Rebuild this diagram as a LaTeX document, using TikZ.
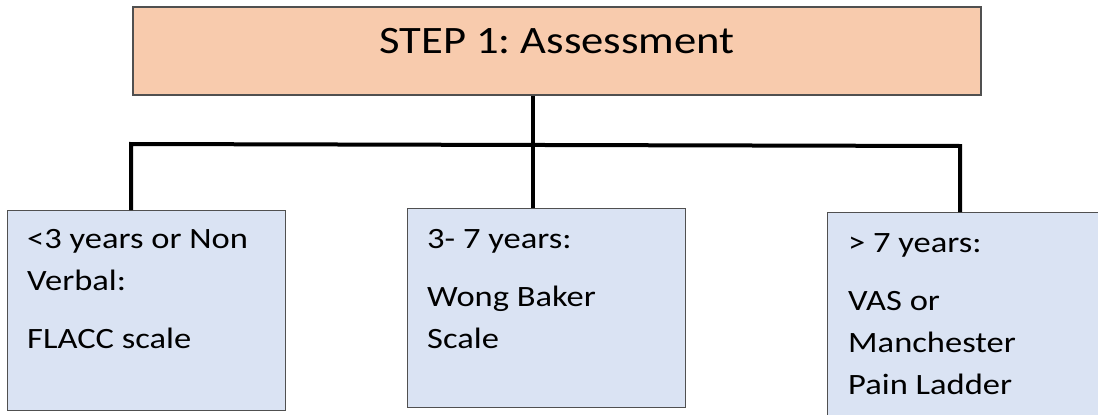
\documentclass[tikz,border=0pt]{standalone}
\usepackage{fontspec}
\setmainfont{Carlito}[FakeStretch=1.17]
\newfontfamily\topfont{Carlito}[FakeStretch=1.15]
\usetikzlibrary{calc}
\definecolor{peach}{HTML}{F8CBAD}
\definecolor{paleblue}{HTML}{DAE3F3}
\definecolor{edgegray}{HTML}{505050}
\begin{document}
\frenchspacing
\begin{tikzpicture}[x=1pt,y=-1pt,
 topbox/.style={draw=edgegray, line width=1.2pt, fill=peach, minimum width=848pt, minimum height=88pt, inner sep=0pt, text height=18pt, text depth=14pt, font=\topfont\fontsize{38.8}{46}\selectfont},
 agebox/.style={draw=edgegray, line width=1.2pt, fill=paleblue, inner sep=0pt, anchor=north west},
 agetext/.style={anchor=north west, inner sep=0pt, align=left, font=\fontsize{29.5}{42}\selectfont},
 link/.style={line width=4pt, black, line join=miter}]
\useasboundingbox (0,0) rectangle (1098,415);
\node[topbox] (top) at (557,51) {STEP 1: Assessment};
\node[agebox, minimum width=278pt, minimum height=200pt] (b1) at (7,210) {};
\node[agebox, minimum width=278pt, minimum height=199pt] (b2) at (407,208) {};
\node[agebox, minimum width=290pt, minimum height=215pt] (b3) at (827,212) {};
\coordinate (j) at (533,145);
\coordinate (hl) at (131,144);
\coordinate (hr) at (960,146);
\draw[link] (top.south -| j) -- (j);
\draw[link] (hl |- b1.north) -- (hl) -- (hr) -- (hr |- b3.north);
\draw[link] (j) -- (j |- b2.north);
\node[agetext] (t1) at (27,229) {<3 years or Non\\Verbal:\\[16pt]FLACC scale};
\node[agetext] (t2) at (427,229) {3- 7 years:\\[16pt]Wong Baker\\Scale};
\node[agetext] (t3) at (848,233) {> 7 years:\\[16pt]VAS or\\Manchester\\Pain Ladder};
\end{tikzpicture}
\end{document}
